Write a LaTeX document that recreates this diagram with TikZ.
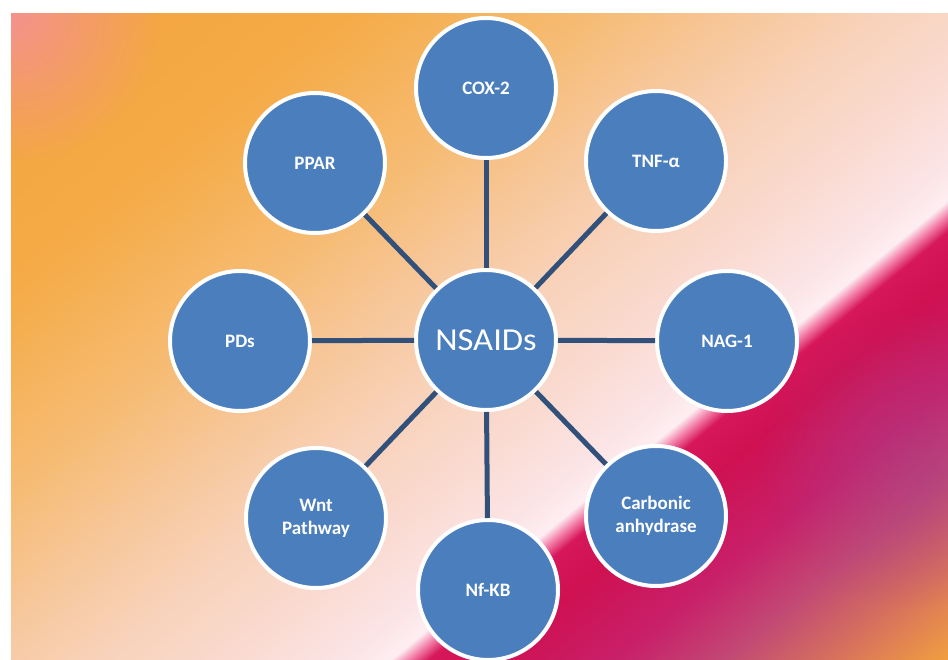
\documentclass[tikz,border=0pt]{standalone}
\usepackage{fontspec}
\setmainfont{Carlito}
\usetikzlibrary{fadings}
\definecolor{nodeblue}{HTML}{4A7EBD}
\definecolor{linkblue}{HTML}{31507A}
\definecolor{pinkglow}{HTML}{F58CA8}
\definecolor{purpleglow}{HTML}{A8408A}
\definecolor{g1}{HTML}{F3A33E}
\definecolor{g2}{HTML}{F5AB47}
\definecolor{g3}{HTML}{F6BB72}
\definecolor{g4}{HTML}{F7C79A}
\definecolor{g5}{HTML}{F8D2BA}
\definecolor{g6}{HTML}{FADBD2}
\definecolor{g7}{HTML}{FCE5E7}
\definecolor{g8}{HTML}{FDEEF2}
\definecolor{g9}{HTML}{F27AA5}
\definecolor{g10}{HTML}{D6175A}
\definecolor{g11}{HTML}{CF1152}
\definecolor{g12}{HTML}{C8206A}
\definecolor{g13}{HTML}{C24A74}
\definecolor{g14}{HTML}{D6705E}
\definecolor{g15}{HTML}{EF9C42}
\pgfdeclarehorizontalshading{bgshade}{100bp}{%
  color(0bp)=(g1); color(30.44bp)=(g1); color(38.30bp)=(g2);
  color(43.66bp)=(g3); color(47.23bp)=(g4); color(50.44bp)=(g5);
  color(53.66bp)=(g6); color(56.155bp)=(g7); color(57.08bp)=(g8);
  color(57.51bp)=(g9); color(57.94bp)=(g10); color(59.37bp)=(g11);
  color(62.23bp)=(g12); color(64.73bp)=(g13); color(67.0bp)=(g14);
  color(69.6bp)=(g15); color(100bp)=(g15)}
\tikzfading[name=glowfade, inner color=transparent!0, outer color=transparent!100]
\tikzset{
  hub/.style={circle, fill=nodeblue, draw=white, line width=4pt,
    minimum size=140pt, inner sep=0pt, text=white, align=center},
  leaf/.style={hub, font=\fontsize{19}{23}\selectfont\bfseries},
  center/.style={hub, font=\fontsize{32}{36}\selectfont},
  link/.style={draw=linkblue, line width=5pt}
}
\begin{document}
\begin{tikzpicture}[x=1pt,y=1pt]
\useasboundingbox (0,0) rectangle (948,659);
\fill[white] (0,0) rectangle (948,659);
\begin{scope}
  \clip (11,0) rectangle (948,645);
  \begin{scope}[transform canvas={shift={(480,330)},rotate=-50.5}]
    \shade[shading=bgshade] (-700,-700) rectangle (700,700);
  \end{scope}
  \fill[pinkglow, path fading=glowfade, fill opacity=0.75] (11,645) circle (150);
  \fill[purpleglow, path fading=glowfade, fill opacity=0.5] (910,200) circle (150);
\end{scope}
\node[center] (n) at (486,319) {\scalebox{1.08}[1]{NSAIDs}};
\node[leaf] (cox) at (486,571) {COX-2};
\node[leaf] (ppar) at (315,496) {PPAR};
\node[leaf] (tnf) at (656,498) {TNF-α};
\node[leaf] (pds) at (240,318) {PDs};
\node[leaf] (nag) at (727,318) {NAG-1};
\node[leaf] (wnt) at (316,141) {Wnt\\Pathway};
\node[leaf] (carb) at (656,143) {Carbonic\\anhydrase};
\node[leaf] (nfkb) at (488,69) {Nf-KB};
\foreach \t in {cox,ppar,tnf,pds,nag,wnt,carb,nfkb}
  \draw[link] (n) -- (\t);
\end{tikzpicture}
\end{document}
